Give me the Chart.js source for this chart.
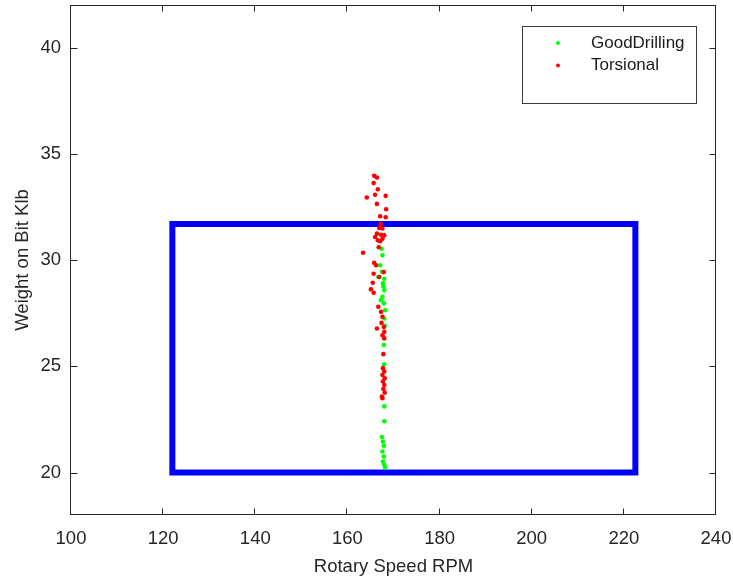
<!DOCTYPE html>
<html>
<head>
<meta charset="utf-8">
<script src="https://cdn.jsdelivr.net/npm/chart.js@4/dist/chart.umd.min.js"></script>
<style>
html,body{margin:0;padding:0;background:#fff;}
#c{display:block;}
</style>
</head>
<body>
<canvas id="c" width="733" height="582"></canvas>
<script>
// ---- data ----
const goodX = [167.4,167.6,167.1,166.7,168.0,167.7,168.0,167.6,167.9,167.3,168.2,168.0,167.9,168.0,168.0,168.0,167.5,167.7,167.9,167.6,167.9,167.7,168.0,168.2,167.8,167.5,168.1];
const goodY = [30.53,30.22,29.75,29.2,29.12,28.90,28.58,28.27,27.96,28.11,27.64,27.25,26.0,25.09,23.11,22.41,21.67,21.46,21.26,20.99,20.75,20.52,20.36,20.24,28.75,29.45,26.9];

const torsX = [165.8,166.4,165.7,166.6,164.2,166.0,168.3,166.4,168.4,167.1,168.3,
               166.9,167.6,166.4,167.3,166.0,167.6,166.6,168.0,167.1,163.4,165.8,166.2,165.7,167.9,166.9,167.2,166.8,
               165.1,165.7,165.5,166.7,167.3,167.6,167.4,167.9,166.4,168.0,167.6,168.0,
               167.8,167.7,168.0,167.6,168.1,167.7,168.0,167.8,168.1,167.5,167.6];
const torsY = [33.96,33.88,33.62,33.33,32.94,33.07,33.02,32.64,32.39,32.06,32.01,
               31.51,31.48,31.24,31.19,31.08,31.0,30.93,31.16,30.88,30.34,29.87,29.75,29.35,29.43,29.2,31.7,30.6,
               28.62,28.46,28.93,27.80,27.56,27.33,27.04,26.85,26.78,26.62,26.46,26.31,
               25.57,24.91,24.75,24.59,24.43,24.28,24.12,23.93,23.76,23.57,23.5];

const boxX = [122, 122, 222.5, 222.5, 122];
const boxY = [20, 31.7, 31.7, 20, 20];

const xTicks = [100,120,140,160,180,200,220,240];
const yTicks = [20,25,30,35,40];
const xRange = [100, 240];
const yRange = [18, 42];

const seriesNames = ['GoodDrilling','Torsional'];
const seriesColors = ['#00ff00','#ff0000'];

const toPts = (xs, ys) => xs.map((x,i)=>({x:x, y:ys[i]}));

const AX = '#262626';
const FONT = '"Liberation Sans", Arial, Helvetica, sans-serif';

const framePlugin = {
  id: 'frame',
  afterDatasetsDraw(chart) {
    const {ctx, chartArea:a, scales} = chart;
    ctx.save();
    ctx.strokeStyle = AX;
    ctx.lineWidth = 1;
    ctx.strokeRect(Math.round(a.left)-0.5, Math.round(a.top)+0.5, Math.round(a.right-a.left), Math.round(a.bottom-a.top)-1);
    const tl = 6.5;
    ctx.beginPath();
    xTicks.forEach(v=>{
      const px = Math.round(scales.x.getPixelForValue(v))-0.5;
      ctx.moveTo(px, a.bottom); ctx.lineTo(px, a.bottom - tl);
      ctx.moveTo(px, a.top); ctx.lineTo(px, a.top + tl);
    });
    yTicks.forEach(v=>{
      const py = Math.round(scales.y.getPixelForValue(v))+0.5;
      ctx.moveTo(a.left, py); ctx.lineTo(a.left + tl, py);
      ctx.moveTo(a.right, py); ctx.lineTo(a.right - tl, py);
    });
    ctx.stroke();

    // legend
    const lx = 522, ly = 26, lw = 174, lh = 77;
    ctx.fillStyle = '#ffffff';
    ctx.fillRect(lx, ly, lw, lh);
    ctx.strokeStyle = '#3a3a3a';
    ctx.strokeRect(lx+0.5, ly+0.5, lw, lh);
    ctx.font = '17px ' + FONT;
    ctx.textBaseline = 'middle';
    ctx.textAlign = 'left';
    const rows = [43, 65.5];
    seriesNames.forEach((n,i)=>{
      ctx.fillStyle = seriesColors[i];
      ctx.beginPath();
      ctx.arc(558, rows[i], 2, 0, Math.PI*2);
      ctx.fill();
      ctx.fillStyle = '#1a1a1a';
      ctx.fillText(n, 591, rows[i]);
    });
    ctx.restore();
  }
};

const zeroPad = s => { s.paddingTop = 0; s.paddingBottom = 0; s.paddingLeft = 0; s.paddingRight = 0; };

new Chart(document.getElementById('c'), {
  type: 'scatter',
  data: {
    datasets: [
      {
        label: 'box',
        data: toPts(boxX, boxY),
        showLine: true,
        borderColor: '#0000ff',
        borderWidth: 6,
        pointRadius: 0,
        fill: false,
        tension: 0,
        borderJoinStyle: 'miter',
        borderCapStyle: 'square',
        order: 3
      },
      {
        label: seriesNames[0],
        data: toPts(goodX, goodY),
        backgroundColor: seriesColors[0],
        borderWidth: 0,
        pointRadius: 2.3,
        order: 2
      },
      {
        label: seriesNames[1],
        data: toPts(torsX, torsY),
        backgroundColor: seriesColors[1],
        borderWidth: 0,
        pointRadius: 2.3,
        order: 1
      }
    ]
  },
  options: {
    responsive: false,
    animation: false,
    events: [],
    layout: { autoPadding: false, padding: { top: 5, right: 17, left: 0, bottom: 0 } },
    plugins: { legend: { display: false }, tooltip: { enabled: false } },
    scales: {
      x: {
        type: 'linear',
        min: xRange[0], max: xRange[1],
        afterBuildTicks: s => { s.ticks = xTicks.map(v=>({value:v})); },
        afterFit: s => { s.height = 67; zeroPad(s); },
        grid: { display: false, drawTicks: false },
        border: { display: false },
        ticks: { color: AX, font: { family: FONT, size: 18.5 }, padding: 13, maxRotation: 0, autoSkip: false },
        title: { display: true, text: 'Rotary Speed RPM', color: AX, font: { family: FONT, size: 18.5 }, padding: 4 }
      },
      y: {
        type: 'linear',
        min: yRange[0], max: yRange[1],
        afterBuildTicks: s => { s.ticks = yTicks.map(v=>({value:v})); },
        afterFit: s => { s.width = 71; zeroPad(s); },
        grid: { display: false, drawTicks: false },
        border: { display: false },
        ticks: { color: AX, font: { family: FONT, size: 18.5 }, padding: 10, autoSkip: false },
        title: { display: true, text: 'Weight on Bit Klb', color: AX, font: { family: FONT, size: 18.5 }, padding: 12 }
      }
    }
  },
  plugins: [framePlugin]
});
</script>
</body>
</html>
